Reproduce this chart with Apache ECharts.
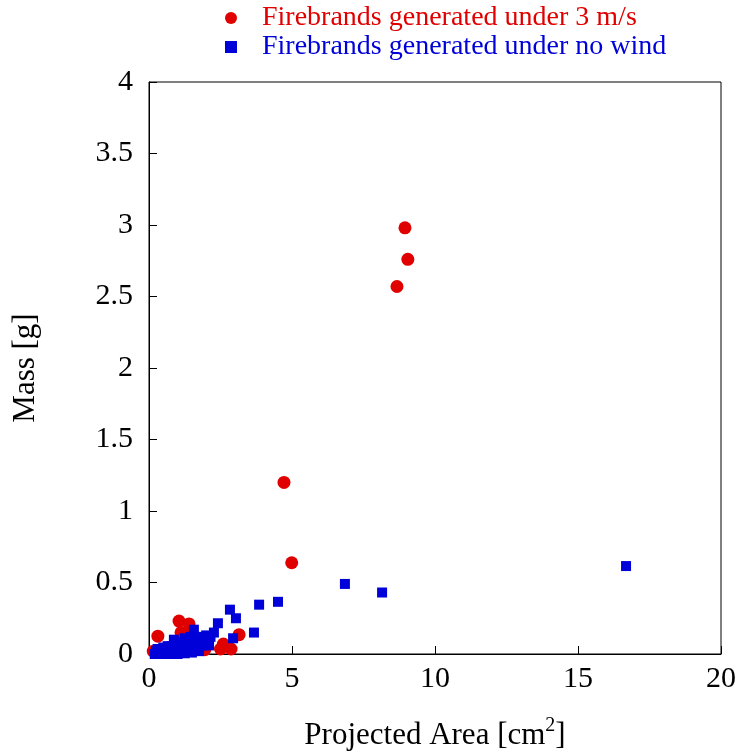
<!DOCTYPE html>
<html>
<head>
<meta charset="utf-8">
<script src="https://cdn.jsdelivr.net/npm/echarts@6/dist/echarts.min.js"></script>
<style>
  html, body { margin: 0; padding: 0; background: #fff; }
  #chart { width: 740px; height: 753px; }
</style>
</head>
<body>
<div id="chart"></div>
<script>
// 3 m/s 下生成的火种 [面积 cm2, 质量 g]
const windData = [
  [8.95, 2.98], [9.05, 2.76], [8.67, 2.57], [4.72, 1.20], [4.99, 0.638],
  [0.31, 0.125], [1.05, 0.23], [1.4, 0.21], [1.12, 0.15], [1.3, 0.1],
  [3.15, 0.135], [2.7, 0.055], [2.87, 0.035], [2.5, 0.035], [2.06, 0.11],
  [1.6, 0.03], [0.15, 0.02], [0.4, 0.01], [0.6, 0.03], [0.8, 0.05],
  [1.0, 0.08], [1.5, 0.06], [1.8, 0.09], [2.6, 0.07], [0.9, 0.02], [1.2, 0.04],
  [1.45, 0.15], [1.95, 0.03]
]
// 无风
const noWindData = [
  [16.68, 0.615], [6.85, 0.49], [8.15, 0.43], [4.51, 0.365], [3.85, 0.345],
  [2.83, 0.31], [3.04, 0.25], [3.67, 0.15], [2.94, 0.11], [2.41, 0.215],
  [1.57, 0.17], [2.0, 0.13], [2.27, 0.15], [0.87, 0.1], [1.2, 0.08],
  [0.25, 0.02], [0.3, 0.035], [0.35, 0.0], [0.4, 0.015], [0.45, 0.03],
  [0.5, 0.045], [0.55, 0.01], [0.6, 0.035], [0.65, 0.055], [0.7, 0.0],
  [0.75, 0.025], [0.8, 0.055], [0.85, 0.01], [0.9, 0.075], [0.95, 0.035],
  [1.0, 0.0], [1.05, 0.06], [1.1, 0.02], [1.15, 0.08], [1.2, 0.045],
  [1.25, 0.005], [1.3, 0.075], [1.35, 0.025], [1.4, 0.095], [1.45, 0.05],
  [1.5, 0.01], [1.55, 0.085], [1.6, 0.04], [1.65, 0.105], [1.7, 0.075],
  [1.75, 0.02], [1.8, 0.1], [1.85, 0.06], [1.9, 0.12], [1.95, 0.08],
  [2.05, 0.1], [2.15, 0.12], [1.25, 0.11], [1.45, 0.12],
  [0.2, 0.0], [0.55, 0.04], [0.95, 0.06], [1.35, 0.06], [1.65, 0.06],
  [1.75, 0.09], [2.0, 0.07], [0.7, 0.03], [1.1, 0.04], [1.5, 0.04], [2.1, 0.06]
]
const xTicks = [0, 5, 10, 15, 20]
const yTicks = [0, 0.5, 1, 1.5, 2, 2.5, 3, 3.5, 4]

const RED = '#e00000'
const BLUE = '#0000d8'
const FONT = '"Liberation Serif", "DejaVu Serif", serif'

const myChart = echarts.init(document.getElementById('chart'))

const option = {
  animation: false,
  textStyle: { fontFamily: FONT },
  legend: {
    orient: 'vertical',
    left: 220,
    top: -1,
    itemGap: 1,
    itemWidth: 12,
    itemHeight: 12,
    textStyle: { fontFamily: FONT, fontSize: 28, padding: [0, 0, 0, 20] },
    data: [
      { name: 'Firebrands generated under 3 m/s', icon: 'circle', textStyle: { color: RED } },
      { name: 'Firebrands generated under no wind', icon: 'rect', itemStyle: { color: BLUE }, textStyle: { color: BLUE } },
    ],
  },
  grid: {
    left: 149,
    right: 19,
    top: 82,
    bottom: 99,
    outerBoundsMode: 'none',
    show: true,
    borderColor: '#000',
    borderWidth: 1,
    backgroundColor: 'transparent',
  },
  xAxis: {
    type: 'value',
    min: xTicks[0],
    max: xTicks[xTicks.length - 1],
    interval: 5,
    name: 'Projected Area [cm{sup|2}]',
    nameLocation: 'middle',
    nameGap: 62,
    nameTextStyle: {
      fontFamily: FONT,
      fontSize: 31,
      color: '#000',
      rich: {
        sup: { fontFamily: FONT, fontSize: 20, color: '#000', padding: [0, 0, 20, 0] },
      },
    },
    axisLine: { show: true, lineStyle: { color: '#000', width: 1 } },
    axisTick: { show: true, inside: true, length: 8, lineStyle: { color: '#000' } },
    axisLabel: { fontFamily: FONT, fontSize: 30, color: '#000', margin: 10 },
    splitLine: { show: false },
  },
  yAxis: {
    type: 'value',
    min: yTicks[0],
    max: yTicks[yTicks.length - 1],
    interval: 0.5,
    name: 'Mass [g]',
    nameLocation: 'middle',
    nameGap: 108,
    nameTextStyle: { fontFamily: FONT, fontSize: 31, color: '#000' },
    axisLine: { show: true, lineStyle: { color: '#000', width: 1 } },
    axisTick: { show: true, inside: true, length: 8, lineStyle: { color: '#000' } },
    axisLabel: { fontFamily: FONT, fontSize: 30, color: '#000', margin: 16 },
    splitLine: { show: false },
  },
  series: [
    {
      name: 'Firebrands generated under 3 m/s',
      type: 'scatter',
      symbol: 'circle',
      symbolSize: 13,
      itemStyle: { color: RED, opacity: 1 },
      data: windData,
    },
    {
      name: 'Firebrands generated under no wind',
      type: 'scatter',
      symbol: 'rect',
      symbolSize: 10,
      itemStyle: { color: BLUE, opacity: 1 },
      data: noWindData,
    },
  ],
}

myChart.setOption(option)
</script>
</body>
</html>
